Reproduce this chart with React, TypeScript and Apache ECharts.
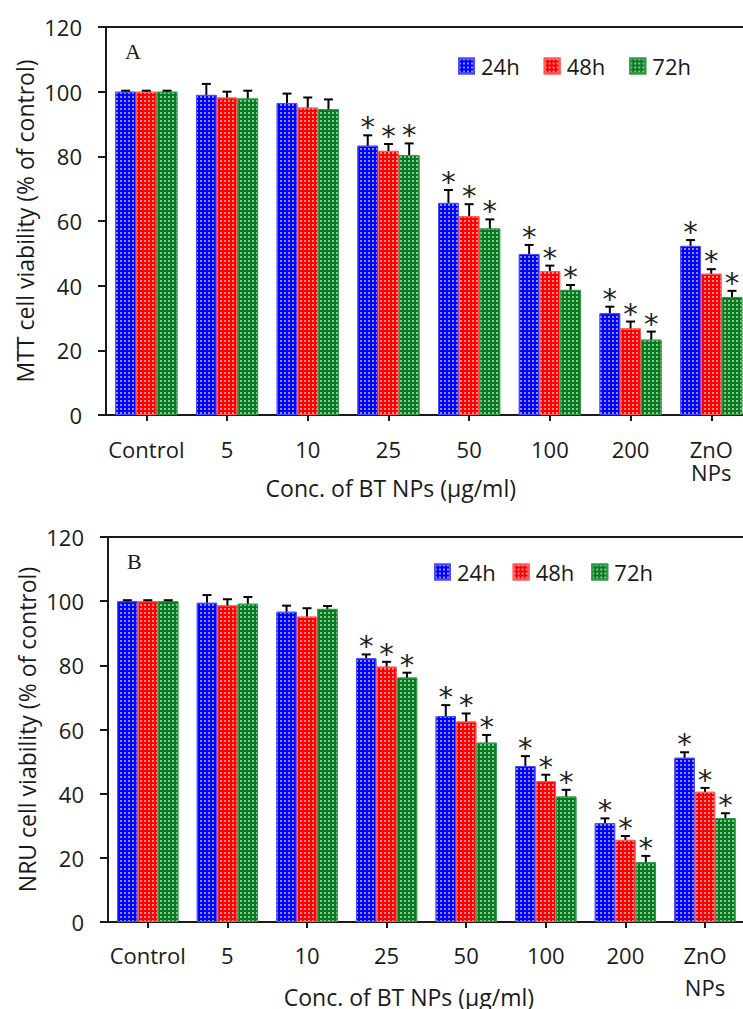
import React, { useEffect, useRef } from "react";
import * as echarts from "echarts";

const categories = ["Control", "5", "10", "25", "50", "100", "200", "ZnO\nNPs"];
const seriesNames = ["24h", "48h", "72h"];
const yTicks = { min: 0, max: 120, interval: 20 };

const mtt24 = [100, 99.0, 96.5, 83.3, 65.6, 49.8, 31.5, 52.3];
const mtt48 = [100, 98.2, 95.1, 81.7, 61.5, 44.5, 26.8, 43.7];
const mtt72 = [100, 97.9, 94.6, 80.4, 57.7, 38.7, 23.3, 36.5];
const mttErr24 = [0.3, 3.4, 2.9, 3.2, 4.0, 2.8, 2.0, 1.8];
const mttErr48 = [0.3, 1.8, 3.1, 2.1, 3.7, 1.7, 2.1, 1.4];
const mttErr72 = [0.3, 2.4, 3.0, 3.6, 2.8, 1.5, 2.5, 1.9];

const nru24 = [100, 99.5, 96.7, 82.2, 64.2, 48.6, 30.8, 51.2];
const nru48 = [100, 98.7, 95.2, 79.6, 62.5, 43.9, 25.6, 40.6];
const nru72 = [100, 99.2, 97.6, 76.2, 55.9, 39.1, 18.6, 32.4];
const nruErr24 = [0.3, 2.4, 1.9, 1.2, 3.4, 3.1, 1.5, 1.7];
const nruErr48 = [0.3, 1.9, 2.6, 1.5, 2.5, 2.0, 1.2, 1.2];
const nruErr72 = [0.3, 2.1, 0.9, 1.5, 2.4, 2.1, 2.0, 1.5];

const significant = [false, false, false, true, true, true, true, true];

const colors = ["#0000ff", "#ff0000", "#067a1e"];
const borderColors = ["#4a4aff", "#ff5a5a", "#2f9a45"];
const GAP = 0.23;
const FONT = "'Open Sans', sans-serif";
const INK = "#1a1a1a";

export default function App() {
  const ref = useRef<HTMLDivElement>(null);
  useEffect(() => {
    if (!ref.current) return;
    const chart = echarts.init(ref.current, null, { renderer: "svg" });

    const panels = [
      { vals: [mtt24, mtt48, mtt72], errs: [mttErr24, mttErr48, mttErr72] },
      { vals: [nru24, nru48, nru72], errs: [nruErr24, nruErr48, nruErr72] },
    ];

    const decal = {
      symbol: "rect",
      symbolSize: 1,
      color: "rgba(255,255,255,0.55)",
      dashArrayX: [2, 2],
      dashArrayY: [2, 2],
    };

    const series: any[] = [];
    panels.forEach((p, pi) => {
      p.vals.forEach((v, k) => {
        series.push({
          type: "bar",
          name: seriesNames[k],
          xAxisIndex: pi,
          yAxisIndex: pi,
          data: v,
          barCategoryGap: GAP * 100 + "%",
          barGap: "0%",
          itemStyle: {
            color: colors[k],
            borderColor: borderColors[k],
            borderWidth: 1,
            decal,
          },
        });
      });
      p.vals.forEach((v, k) => {
        series.push({
          type: "custom",
          name: "err-" + pi + "-" + k,
          xAxisIndex: pi,
          yAxisIndex: pi,
          clip: false,
          z: 5,
          encode: { x: 0, y: 1 },
          data: v.map((val, i) => [i, val, p.errs[k][i], significant[i] ? 1 : 0]),
          renderItem: (params: any, api: any) => {
            const cat = api.value(0);
            const val = api.value(1);
            const err = api.value(2);
            const sig = api.value(3);
            const base = api.coord([cat, val]);
            const top = api.coord([cat, val + err]);
            const band = api.size([1, 0])[0];
            const bw = (band * (1 - GAP)) / 3;
            const x = base[0] + (k - 1) * bw;
            const children: any[] = [
              {
                type: "line",
                shape: { x1: x, y1: base[1], x2: x, y2: top[1] },
                style: { stroke: "#000", lineWidth: 2 },
              },
              {
                type: "line",
                shape: { x1: x - 4.5, y1: top[1], x2: x + 4.5, y2: top[1] },
                style: { stroke: "#000", lineWidth: 2 },
              },
            ];
            if (sig) {
              children.push({
                type: "text",
                x: x,
                y: top[1] - 8,
                style: {
                  text: "*",
                  fontSize: 29,
                  fontFamily: "'DejaVu Sans', sans-serif",
                  fill: "#222",
                  align: "center",
                  verticalAlign: "middle",
                },
              });
            }
            return { type: "group", children };
          },
        });
      });
    });

    const gridDefs = [
      { left: 106, top: 27, width: 80.7 * 8, height: 388 },
      { left: 108, top: 537, width: 79.6 * 8, height: 385 },
    ];

    const axisLine = { show: true, lineStyle: { color: INK, width: 2 } };

    chart.setOption({
      animation: false,
      backgroundColor: "#fff",
      title: [
        {
          text: "A",
          left: 120,
          top: 35,
          textStyle: { fontFamily: "'Liberation Serif', serif", fontSize: 22, fontWeight: "normal", color: INK },
        },
        {
          text: "B",
          left: 122,
          top: 545,
          textStyle: { fontFamily: "'Liberation Serif', serif", fontSize: 22, fontWeight: "normal", color: INK },
        },
      ],
      legend: [
        {
          data: seriesNames,
          left: 453,
          top: 50,
          icon: "rect",
          itemWidth: 15,
          itemHeight: 15,
          itemGap: 24,
          selectedMode: false,
          textStyle: { fontFamily: FONT, fontSize: 22, color: INK, padding: [0, 0, 0, 2] },
        },
        {
          data: seriesNames,
          left: 429,
          top: 556,
          icon: "rect",
          itemWidth: 15,
          itemHeight: 15,
          itemGap: 17,
          selectedMode: false,
          textStyle: { fontFamily: FONT, fontSize: 22, color: INK, padding: [0, 0, 0, 2] },
        },
      ],
      grid: gridDefs.map((g) => ({
        ...g,
        show: true,
        borderColor: INK,
        borderWidth: 2,
        backgroundColor: "transparent",
        containLabel: false,
        outerBoundsMode: "none",
      })),
      xAxis: [0, 1].map((i) => ({
        type: "category",
        gridIndex: i,
        data: categories,
        name: "Conc. of BT NPs (µg/ml)",
        nameLocation: "middle",
        nameGap: i === 0 ? 61 : 63,
        nameMoveOverlap: false,
        nameTextStyle: {
          fontFamily: FONT,
          fontSize: 23,
          color: INK,
          padding: i === 0 ? [0, 76, 0, 0] : [0, 35, 0, 0],
        },
        axisLine,
        axisTick: { show: true, alignWithLabel: true, length: 6, lineStyle: { color: INK, width: 2 } },
        axisLabel: {
          interval: 0,
          fontFamily: FONT,
          fontSize: 22,
          color: INK,
          margin: i === 0 ? 22 : 17,
          lineHeight: i === 0 ? 23 : 32,
        },
      })),
      yAxis: [0, 1].map((i) => ({
        type: "value",
        gridIndex: i,
        ...yTicks,
        name: i === 0 ? "MTT cell viability (% of control)" : "NRU cell viability (% of control)",
        nameLocation: "middle",
        nameGap: 70,
        nameMoveOverlap: false,
        nameTextStyle: { fontFamily: FONT, fontSize: 23, color: INK },
        axisLine,
        axisTick: { show: true, length: 8, lineStyle: { color: INK, width: 2 } },
        splitLine: { show: false },
        axisLabel: { fontFamily: FONT, fontSize: 22, color: INK, margin: 24 },
      })),
      series,
    });

    return () => chart.dispose();
  }, []);

  return (
    <div
      ref={ref}
      style={{ position: "absolute", left: 0, top: 0, width: 743, height: 1009 }}
    />
  );
}
